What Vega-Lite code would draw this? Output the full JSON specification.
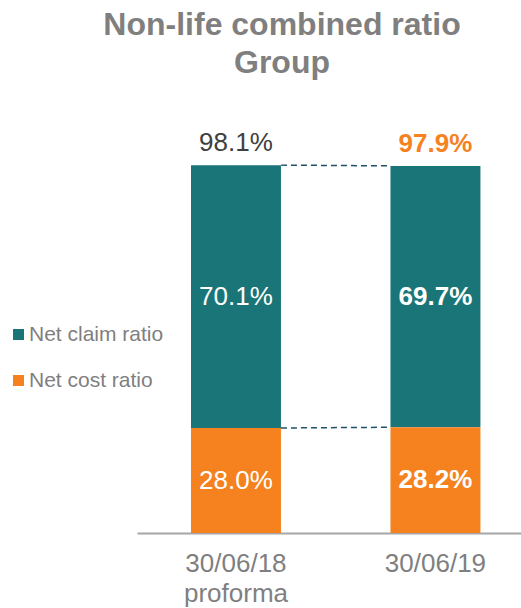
{
  "$schema": "https://vega.github.io/schema/vega-lite/v6.json",
  "autosize": "none",
  "width": 384,
  "height": 375,
  "padding": {"left": 137, "top": 158, "right": 0, "bottom": 75},
  "background": "white",
  "config": {
    "font": "Liberation Sans",
    "view": {"stroke": null}
  },
  "title": {
    "text": ["Non-life combined ratio", "Group"],
    "fontSize": 32,
    "fontWeight": "bold",
    "color": "#7f7f7f",
    "font": "Liberation Sans",
    "lineHeight": 38,
    "anchor": "middle",
    "dx": -47,
    "offset": 50
  },
  "datasets": {
    "bars": [
      {"cat": "30/06/18 proforma", "series": "Net claim ratio", "value": 70.1},
      {"cat": "30/06/18 proforma", "series": "Net cost ratio", "value": 28.0},
      {"cat": "30/06/19", "series": "Net claim ratio", "value": 69.7},
      {"cat": "30/06/19", "series": "Net cost ratio", "value": 28.2}
    ],
    "totals": [
      {"cat": "30/06/18 proforma", "total": 98.1},
      {"cat": "30/06/19", "total": 97.9}
    ],
    "links": [
      {"from": "30/06/18 proforma", "to": "30/06/19", "y": 98.1, "y2": 97.9},
      {"from": "30/06/18 proforma", "to": "30/06/19", "y": 28.0, "y2": 28.2}
    ]
  },
  "encoding": {
    "x": {
      "field": "cat",
      "type": "nominal",
      "scale": {
        "type": "band",
        "domain": ["30/06/18 proforma", "30/06/19"],
        "paddingInner": 0.549,
        "paddingOuter": 0.237,
        "align": 0.571
      },
      "axis": {
        "title": null,
        "labelAngle": 0,
        "ticks": false,
        "domainColor": "#a6a6a6",
        "domainWidth": 2,
        "labelColor": "#7f7f7f",
        "labelFontSize": 26,
        "labelPadding": 17,
        "labelLineHeight": 30,
        "labelExpr": "datum.label == '30/06/18 proforma' ? ['30/06/18', 'proforma'] : datum.label"
      }
    }
  },
  "layer": [
    {
      "data": {"name": "bars"},
      "mark": {"type": "bar"},
      "encoding": {
        "y": {"field": "value", "type": "quantitative", "stack": "zero", "scale": {"domain": [0, 100], "nice": false}, "axis": null},
        "color": {
          "field": "series",
          "type": "nominal",
          "scale": {"domain": ["Net claim ratio", "Net cost ratio"], "range": ["#1a7578", "#f5821f"]},
          "legend": {
            "title": null,
            "orient": "none",
            "legendX": -129,
            "legendY": 166,
            "symbolType": "square",
            "symbolSize": 121,
            "symbolStrokeWidth": 0,
            "labelFontSize": 21,
            "labelColor": "#7f7f7f",
            "labelOffset": 0,
            "rowPadding": 24
          }
        },
        "order": {"field": "series", "sort": "descending"}
      }
    },
    {
      "data": {"name": "bars"},
      "transform": [
        {"stack": "value", "groupby": ["cat"], "sort": [{"field": "series", "order": "descending"}], "as": ["y0", "y1"]},
        {"calculate": "(datum.y0 + datum.y1) / 2", "as": "mid"},
        {"calculate": "format(datum.value, '.1f') + '%'", "as": "lbl"},
        {"filter": "datum.cat == '30/06/18 proforma'"}
      ],
      "mark": {"type": "text", "color": "white", "fontSize": 26, "baseline": "middle"},
      "encoding": {
        "y": {"field": "mid", "type": "quantitative"},
        "text": {"field": "lbl", "type": "nominal"}
      }
    },
    {
      "data": {"name": "bars"},
      "transform": [
        {"stack": "value", "groupby": ["cat"], "sort": [{"field": "series", "order": "descending"}], "as": ["y0", "y1"]},
        {"calculate": "(datum.y0 + datum.y1) / 2", "as": "mid"},
        {"calculate": "format(datum.value, '.1f') + '%'", "as": "lbl"},
        {"filter": "datum.cat == '30/06/19'"}
      ],
      "mark": {"type": "text", "color": "white", "fontSize": 26, "fontWeight": "bold", "baseline": "middle"},
      "encoding": {
        "y": {"field": "mid", "type": "quantitative"},
        "text": {"field": "lbl", "type": "nominal"}
      }
    },
    {
      "data": {"name": "totals"},
      "transform": [
        {"calculate": "format(datum.total, '.1f') + '%'", "as": "lbl"},
        {"filter": "datum.cat == '30/06/18 proforma'"}
      ],
      "mark": {"type": "text", "color": "#404040", "fontSize": 26, "baseline": "bottom", "dy": -9},
      "encoding": {
        "y": {"field": "total", "type": "quantitative"},
        "text": {"field": "lbl", "type": "nominal"}
      }
    },
    {
      "data": {"name": "totals"},
      "transform": [
        {"calculate": "format(datum.total, '.1f') + '%'", "as": "lbl"},
        {"filter": "datum.cat == '30/06/19'"}
      ],
      "mark": {"type": "text", "color": "#f5821f", "fontSize": 26, "fontWeight": "bold", "baseline": "bottom", "dy": -9},
      "encoding": {
        "y": {"field": "total", "type": "quantitative"},
        "text": {"field": "lbl", "type": "nominal"}
      }
    },
    {
      "data": {"name": "links"},
      "mark": {"type": "rule", "color": "#1f5068", "strokeWidth": 1.5, "strokeDash": [6, 4]},
      "encoding": {
        "x": {"field": "from", "type": "nominal", "bandPosition": 1},
        "x2": {"field": "to", "bandPosition": 0},
        "y": {"field": "y", "type": "quantitative"},
        "y2": {"field": "y2"}
      }
    }
  ]
}
